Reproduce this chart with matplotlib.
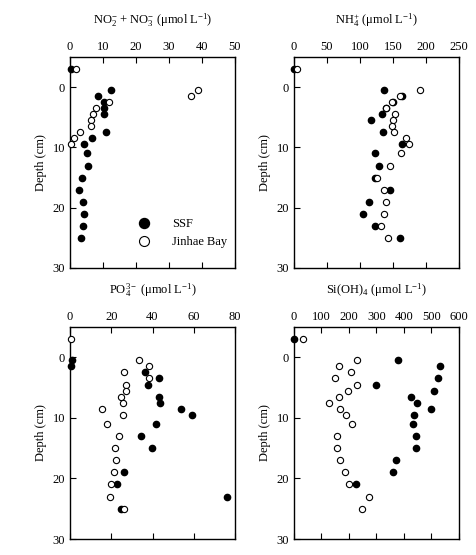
import matplotlib
matplotlib.use("Agg")
from matplotlib import pyplot as plt

plt.rcParams['font.family'] = ['Liberation Serif', 'DejaVu Serif']
plt.rcParams['mathtext.fontset'] = 'custom'
plt.rcParams['mathtext.rm'] = 'Liberation Serif'
plt.rcParams['mathtext.it'] = 'Liberation Serif:italic'
plt.rcParams['font.size'] = 9

# depths (cm), -3 = overlying water
depth_all = [-3, 0.5, 1.5, 2.5, 3.5, 4.5, 5.5, 6.5, 7.5, 8.5, 9.5, 11, 13, 15, 17, 19, 21, 23, 25]

# NO2- + NO3-
nox_ssf_d = [-3, 0.5, 1.5, 2.5, 3.5, 4.5, 7.5, 8.5, 9.5, 11, 13, 15, 17, 19, 21, 23, 25]
nox_ssf = [0.2, 12.4, 8.4, 10.3, 10.3, 10.4, 10.8, 6.8, 4.2, 5.2, 5.5, 3.5, 2.8, 4.0, 4.3, 3.8, 3.2]
nox_jb_d = [-3, 0.5, 1.5, 2.5, 3.5, 4.5, 5.5, 6.5, 7.5, 8.5, 9.5]
nox_jb = [1.9, 38.8, 36.8, 11.8, 7.8, 7.1, 6.5, 6.4, 3.1, 1.3, 0.2]

# NH4+
nh4_ssf_d = [-3, 0.5, 1.5, 2.5, 3.5, 4.5, 5.5, 7.5, 9.5, 11, 13, 15, 17, 19, 21, 23, 25]
nh4_ssf = [0, 137, 164, 150, 139, 134, 116, 135, 163, 123, 129, 123, 146, 113, 105, 123, 161]
nh4_jb = [4.5, 191, 160, 149, 140, 153, 150, 149, 151, 170, 174, 162, 146, 126, 137, 139, 136, 132, 143]

# PO4 3-
po4_ssf_d = [0.5, 1.5, 2.5, 3.5, 4.5, 6.5, 7.5, 8.5, 9.5, 11, 13, 15, 19, 21, 23, 25]
po4_ssf = [1.0, 0.3, 36.4, 43.2, 38.0, 43.2, 43.5, 53.6, 59.3, 41.9, 34.2, 39.6, 26.0, 22.9, 76.0, 24.5]
po4_jb = [0.3, 33.4, 38.1, 26.3, 38.5, 27.3, 27.1, 24.7, 25.6, 15.6, 25.5, 18.0, 23.9, 21.6, 22.4, 21.1, 20.0, 19.2, 26.0]

# Si(OH)4
si_ssf_d = [-3, 0.5, 1.5, 3.5, 4.5, 5.5, 6.5, 7.5, 8.5, 9.5, 11, 13, 15, 17, 19, 21]
si_ssf = [0, 380, 530, 522, 299, 509, 425, 449, 497, 438, 431, 444, 444, 371, 361, 227]
si_jb = [31, 228, 164, 208, 149, 228, 196, 163, 128, 167, 189, 212, 155, 155, 169, 187, 199, 271, 248]

titles = [r'NO$_2^{-}$ + NO$_3^{-}$ (μmol L$^{-1}$)',
          r'NH$_4^{+}$ (μmol L$^{-1}$)',
          r'PO$_4^{3-}$ (μmol L$^{-1}$)',
          r'Si(OH)$_4$ (μmol L$^{-1}$)']
xmax = [50, 250, 80, 600]
xstep = [10, 50, 20, 100]

panels = [
    (nox_ssf_d, nox_ssf, nox_jb_d, nox_jb),
    (nh4_ssf_d, nh4_ssf, depth_all, nh4_jb),
    (po4_ssf_d, po4_ssf, depth_all, po4_jb),
    (si_ssf_d, si_ssf, depth_all, si_jb),
]

fig = plt.figure(figsize=(4.77, 5.55), dpi=100)
W, H = 477.0, 555.0
boxes = [(70, 57, 235, 268), (294, 57, 459, 268), (70, 327, 235, 539), (294, 327, 459, 539)]

for i, (sd, sv, jd, jv) in enumerate(panels):
    x0, y0, x1, y1 = boxes[i]
    ax = fig.add_axes([x0 / W, 1 - y1 / H, (x1 - x0) / W, (y1 - y0) / H])
    ax.plot(sv, sd, 'o', color='black', ms=4.5, clip_on=False, label='SSF', zorder=3)
    ax.plot(jv, jd, 'o', mfc='white', mec='black', mew=0.8, ms=4.5, clip_on=False,
            label='Jinhae Bay', zorder=4)
    ax.set_xlim(0, xmax[i])
    ax.set_ylim(30, -5)
    ax.set_xticks(range(0, xmax[i] + 1, xstep[i]))
    ax.set_yticks([0, 10, 20, 30])
    ax.xaxis.tick_top()
    ax.tick_params(axis='x', which='both', direction='in', top=True, bottom=True,
                   labeltop=True, labelbottom=False, length=4, pad=3, labelsize=9)
    ax.tick_params(axis='y', direction='in', left=True, right=False, length=4, labelsize=9)
    for s in ax.spines.values():
        s.set_linewidth(1.0)
    ax.set_ylabel('Depth (cm)', fontsize=9, labelpad=4)
    ax.set_title(titles[i], fontsize=9, pad=24)
    if i == 0:
        ax.legend(loc='lower right', frameon=False, fontsize=9, markerscale=1.6,
                  handletextpad=1.2, bbox_to_anchor=(1.02, 0.04))

fig.savefig('out.png', dpi=100)
